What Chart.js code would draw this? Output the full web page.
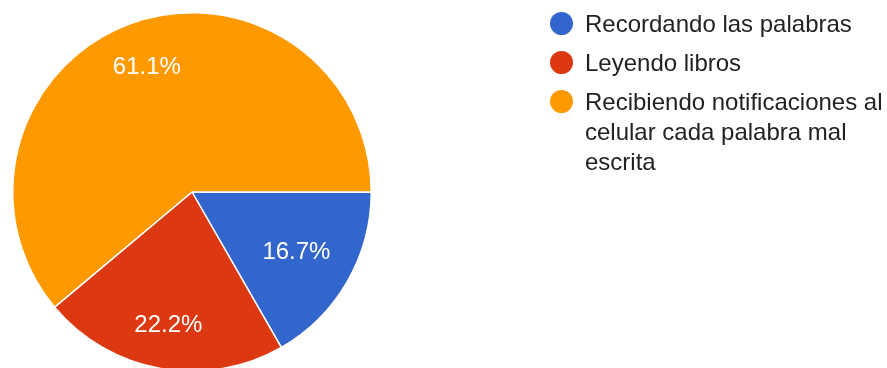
<!DOCTYPE html>
<html>
<head>
<meta charset="utf-8">
<script src="https://cdn.jsdelivr.net/npm/chart.js@4/dist/chart.umd.min.js"></script>
<style>
  html, body { margin: 0; padding: 0; background: #fff; overflow: hidden; width: 887px; height: 368px; }
  #wrap { position: absolute; left: 0; top: 0; width: 887px; height: 392px; }
  #legend { position: absolute; left: 550px; top: 9px; font-family: "Liberation Sans", Arial, sans-serif;
            font-size: 24px; color: #222; margin: 0; padding: 0; list-style: none; }
  #legend li { display: flex; align-items: flex-start; margin-bottom: 9px; }
  #legend .dot { width: 23px; height: 23px; border-radius: 50%; flex: none; margin-top: 3px; margin-right: 12px; }
  #legend .txt { width: 310px; line-height: 30px; }
</style>
</head>
<body>
<div id="wrap"><canvas id="c"></canvas></div>
<ul id="legend"></ul>
<script>
// Survey answers and their share of responses (%)
const categories = [
  "Recordando las palabras",
  "Leyendo libros",
  "Recibiendo notificaciones al celular cada palabra mal escrita"
];
const shares = [16.7, 22.2, 61.1];
const shareLabels = ["16.7%", "22.2%", "61.1%"];
const colors = ["#3366cc", "#dc3912", "#ff9900"];

// Percent text inside each slice, placed along the slice's middle angle
const sliceLabels = {
  id: "sliceLabels",
  afterDatasetsDraw(chart, args, opts) {
    const ctx = chart.ctx;
    const meta = chart.getDatasetMeta(0);
    ctx.save();
    ctx.font = '24px "Liberation Sans", Arial, sans-serif';
    ctx.fillStyle = "#ffffff";
    ctx.textAlign = "center";
    ctx.textBaseline = "middle";
    meta.data.forEach((arc, i) => {
      const p = arc.getProps(["x", "y", "startAngle", "endAngle", "outerRadius"], true);
      const mid = (p.startAngle + p.endAngle) / 2;
      const r = p.outerRadius * opts.radial[i];
      ctx.fillText(shareLabels[i], p.x + Math.cos(mid) * r, p.y + Math.sin(mid) * r);
    });
    ctx.restore();
  }
};

new Chart(document.getElementById("c"), {
  type: "pie",
  data: {
    labels: categories,
    datasets: [{
      data: shares,
      backgroundColor: colors,
      borderColor: "#ffffff",
      borderWidth: 1.5
    }]
  },
  options: {
    responsive: true,
    maintainAspectRatio: false,
    animation: false,
    rotation: 90,
    layout: { padding: { left: 12, top: 12, right: 515, bottom: 20 } },
    plugins: {
      legend: { display: false },
      tooltip: { enabled: false },
      sliceLabels: { radial: [0.673, 0.755, 0.737] }
    }
  },
  plugins: [sliceLabels]
});

// Legend built from the same categories and colours
const legend = document.getElementById("legend");
categories.forEach((name, i) => {
  const li = document.createElement("li");
  const dot = document.createElement("span");
  dot.className = "dot";
  dot.style.background = colors[i];
  const txt = document.createElement("span");
  txt.className = "txt";
  txt.textContent = name;
  li.appendChild(dot);
  li.appendChild(txt);
  legend.appendChild(li);
});
</script>
</body>
</html>
